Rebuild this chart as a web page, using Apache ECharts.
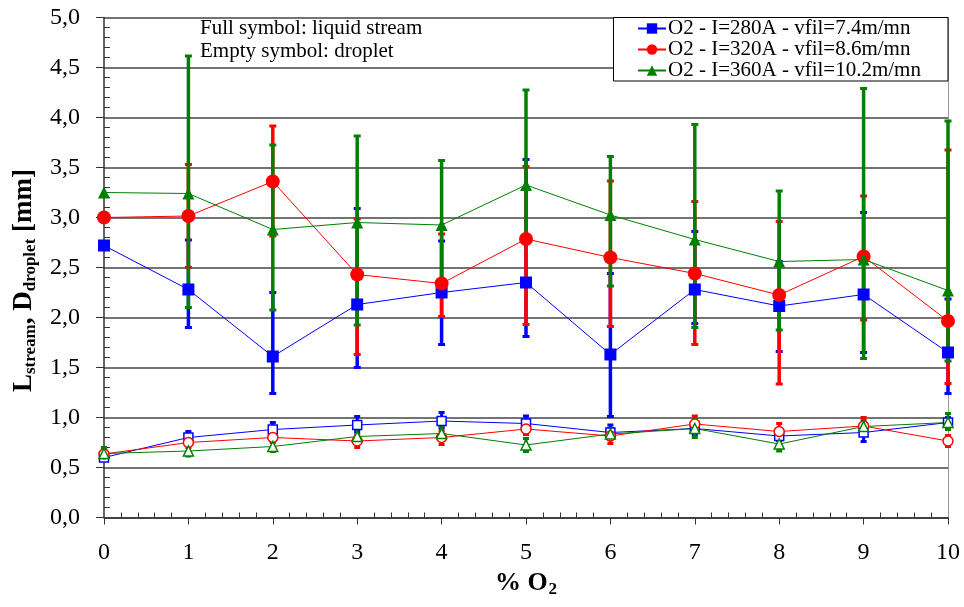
<!DOCTYPE html>
<html>
<head>
<meta charset="utf-8">
<script src="https://cdn.jsdelivr.net/npm/echarts@6/dist/echarts.min.js"></script>
<style>
html,body{margin:0;padding:0;background:#fff;}
#chart{width:964px;height:607px;}
</style>
</head>
<body>
<div id="chart"></div>
<script>
// ---- Data ----
const o2 = [0, 1, 2, 3, 4, 5, 6, 7, 8, 9, 10];
const legendNames = ['O2 - I=280A - vfil=7.4m/mn', 'O2 - I=320A - vfil=8.6m/mn', 'O2 - I=360A - vfil=10.2m/mn'];
const yTicks = [0, 0.5, 1, 1.5, 2, 2.5, 3, 3.5, 4, 4.5, 5];

// liquid stream (full symbols)
const stream280   = [2.72, 2.28, 1.61, 2.13, 2.25, 2.35, 1.63, 2.28, 2.115, 2.23, 1.65];
const stream280Lo = [null, 1.90, 1.24, 1.50, 1.73, 1.81, 1.01, 1.94, 1.66, 1.65, 1.24];
const stream280Hi = [null, 2.775, 2.25, 3.09, 2.765, 3.58, 2.44, 2.86, 2.56, 3.05, 2.185];

const stream320   = [3.00, 3.015, 3.36, 2.43, 2.34, 2.785, 2.60, 2.44, 2.225, 2.61, 1.965];
const stream320Lo = [null, 2.50, 2.815, 1.63, 2.01, 1.93, 1.91, 1.73, 1.335, 1.975, 1.34];
const stream320Hi = [null, 3.53, 3.915, 2.985, 2.835, 3.51, 3.365, 3.16, 2.96, 3.215, 3.675];

const stream360   = [3.25, 3.24, 2.88, 2.95, 2.925, 3.325, 3.025, 2.78, 2.56, 2.58, 2.27];
const stream360Lo = [null, 2.10, 2.075, 1.925, 2.21, 2.80, 2.315, 1.90, 1.875, 1.59, 1.565];
const stream360Hi = [null, 4.615, 3.725, 3.815, 3.57, 4.275, 3.61, 3.93, 3.265, 4.29, 3.965];

// droplet (empty symbols)
const drop280   = [0.60, 0.80, 0.88, 0.925, 0.965, 0.94, 0.85, 0.89, 0.815, 0.85, 0.95];
const drop280Lo = [0.57, 0.75, 0.82, 0.86, 0.90, 0.88, 0.80, 0.83, 0.77, 0.76, 0.90];
const drop280Hi = [0.65, 0.86, 0.95, 1.01, 1.05, 1.015, 0.925, 0.95, 0.87, 0.93, 1.00];

const drop320   = [0.635, 0.75, 0.80, 0.765, 0.80, 0.885, 0.815, 0.935, 0.86, 0.915, 0.765];
const drop320Lo = [0.60, 0.70, 0.75, 0.70, 0.73, 0.83, 0.74, 0.87, 0.80, 0.85, 0.71];
const drop320Hi = [0.67, 0.80, 0.85, 0.83, 0.87, 0.93, 0.89, 1.015, 0.94, 1.00, 0.82];

const drop360   = [0.64, 0.665, 0.71, 0.81, 0.84, 0.725, 0.835, 0.89, 0.735, 0.91, 0.95];
const drop360Lo = [0.58, 0.615, 0.66, 0.75, 0.77, 0.66, 0.78, 0.80, 0.665, 0.85, 0.88];
const drop360Hi = [0.70, 0.72, 0.76, 0.91, 0.91, 0.79, 0.89, 0.98, 0.80, 0.97, 1.04];

// ---- Chart ----
const BLUE = '#0000ff', RED = '#ff0000', GREEN = '#008000';
const FONT = '"Liberation Serif", "Times New Roman", serif';

function pairs(ys) { return o2.map((x, i) => [x, ys[i]]); }

function errSeries(lo, hi, color, lw, capW, z) {
  const data = [];
  o2.forEach((x, i) => { if (lo[i] != null && hi[i] != null) data.push([x, lo[i], hi[i]]); });
  return {
    type: 'custom', silent: true, z: z, animation: false,
    encode: { x: 0, y: [1, 2] },
    data: data,
    renderItem: function (params, api) {
      const x = api.value(0);
      const pl = api.coord([x, api.value(1)]);
      const ph = api.coord([x, api.value(2)]);
      const st = { stroke: color, lineWidth: lw };
      return {
        type: 'group',
        children: [
          { type: 'line', shape: { x1: pl[0], y1: pl[1], x2: ph[0], y2: ph[1] }, style: st },
          { type: 'line', shape: { x1: pl[0] - capW / 2, y1: pl[1], x2: pl[0] + capW / 2, y2: pl[1] }, style: { stroke: color, lineWidth: 3 } },
          { type: 'line', shape: { x1: ph[0] - capW / 2, y1: ph[1], x2: ph[0] + capW / 2, y2: ph[1] }, style: { stroke: color, lineWidth: 3 } }
        ]
      };
    }
  };
}

function lineSeries(name, ys, color, symbol, size, empty, z) {
  return {
    type: 'line', name: name, data: pairs(ys), z: z,
    symbol: symbol, symbolSize: size, showAllSymbol: true,
    lineStyle: { color: color, width: 1 },
    itemStyle: empty ? { color: '#fff', borderColor: color, borderWidth: 1.5 } : { color: color, borderWidth: 0 },
    emphasis: { disabled: true },
    animation: false
  };
}

const chart = echarts.init(document.getElementById('chart'), null, { renderer: 'canvas' });

const fmt = v => v.toFixed(1).replace('.', ',');

chart.setOption({
  animation: false,
  backgroundColor: '#fff',
  grid: { left: 104, right: 16, top: 17.5, bottom: 89.5, containLabel: false },
  legend: {
    data: legendNames,
    orient: 'vertical',
    left: 613, top: 17,
    padding: [1, 20, 0, 24],
    itemGap: 0,
    itemWidth: 28, itemHeight: 13,
    z: 20,
    selectedMode: false,
    textStyle: { fontFamily: FONT, fontSize: 21, color: '#000', lineHeight: 21, padding: [0, 0, 0, -3] }
  },
  graphic: [
    { type: 'rect', z: 10, shape: { x: 613.5, y: 17.5, width: 334.5, height: 63.5 }, style: { fill: '#fff', stroke: '#000', lineWidth: 1 } },
    { type: 'text', left: 200, top: 18, z: 100, style: { text: 'Full symbol: liquid stream', font: '21px ' + FONT, fill: '#000' } },
    { type: 'text', left: 200, top: 41, z: 100, style: { text: 'Empty symbol: droplet', font: '21px ' + FONT, fill: '#000' } }
  ],
  xAxis: {
    type: 'value', min: 0, max: 10, interval: 1,
    name: '{b|% O}{s|2}',
    nameLocation: 'middle', nameGap: 50,
    nameTextStyle: {
      rich: {
        b: { fontFamily: FONT, fontSize: 26, fontWeight: 'bold', color: '#000' },
        s: { fontFamily: FONT, fontSize: 17, fontWeight: 'bold', color: '#000', padding: [14, 0, 0, 1] }
      }
    },
    axisLine: { show: true, lineStyle: { color: '#333', width: 1.5 } },
    axisTick: { show: true, inside: false, length: 7, lineStyle: { color: '#333', width: 1 } },
    minorTick: { show: true, splitNumber: 5, length: -5, lineStyle: { color: '#333', width: 1 } },
    splitLine: { show: false },
    axisLabel: { fontFamily: FONT, fontSize: 24, color: '#000', margin: 23, formatter: v => String(v) }
  },
  yAxis: [{
    type: 'value', min: yTicks[0], max: yTicks[yTicks.length - 1], interval: 0.5,
    name: '{b|L}{s|stream}{b|, D}{s|droplet}{b| [mm]}',
    nameLocation: 'middle', nameGap: 62, nameRotate: 90,
    nameTextStyle: {
      padding: [0, 26, 0, 0],
      rich: {
        b: { fontFamily: FONT, fontSize: 27, fontWeight: 'bold', color: '#000' },
        s: { fontFamily: FONT, fontSize: 17, fontWeight: 'bold', color: '#000', padding: [14, 0, 0, 0] }
      }
    },
    axisLine: { show: true, lineStyle: { color: '#333', width: 1.5 } },
    axisTick: { show: true, inside: false, length: 8, lineStyle: { color: '#333', width: 1 } },
    minorTick: { show: true, splitNumber: 5, length: -6, lineStyle: { color: '#333', width: 1 } },
    splitLine: { show: true, lineStyle: { color: '#444', width: 1.5 } },
    axisLabel: { fontFamily: FONT, fontSize: 24, color: '#000', margin: 24, formatter: fmt }
  }, {
    type: 'value', min: 0, max: 5, interval: 0.5, position: 'right',
    axisLine: { show: true, lineStyle: { color: '#999', width: 1 } },
    axisTick: { show: false }, axisLabel: { show: false }, splitLine: { show: false }
  }],
  series: [
    errSeries(drop280Lo, drop280Hi, BLUE, 3, 6, 1),
    errSeries(drop320Lo, drop320Hi, RED, 3, 6, 1),
    errSeries(drop360Lo, drop360Hi, GREEN, 3, 6, 1),
    errSeries(stream280Lo, stream280Hi, BLUE, 3.5, 7, 1),
    errSeries(stream320Lo, stream320Hi, RED, 3.5, 7, 1),
    errSeries(stream360Lo, stream360Hi, GREEN, 3.5, 7, 1),
    lineSeries('d280', drop280, BLUE, 'rect', 9, true, 3),
    lineSeries('d320', drop320, RED, 'circle', 10, true, 3),
    lineSeries('d360', drop360, GREEN, 'triangle', 10, true, 3),
    lineSeries(legendNames[0], stream280, BLUE, 'rect', 12, false, 4),
    lineSeries(legendNames[1], stream320, RED, 'circle', 14, false, 4),
    lineSeries(legendNames[2], stream360, GREEN, 'triangle', 12, false, 4)
  ]
});
</script>
</body>
</html>
